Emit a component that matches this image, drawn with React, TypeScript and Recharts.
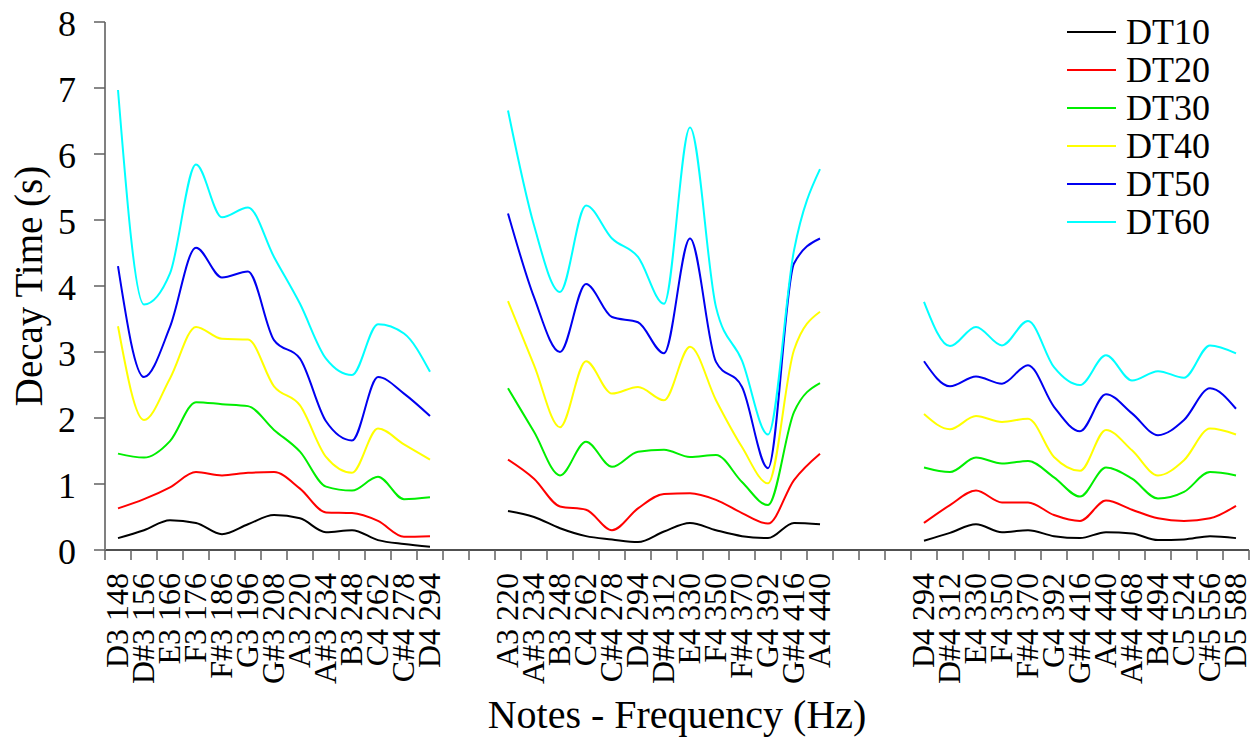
import React from 'react';
import { LineChart, Line, XAxis, YAxis, Legend, Label } from 'recharts';

// note labels for the three measured ranges
const NOTES_LOW = ['D3 148', 'D#3 156', 'E3 166', 'F3 176', 'F#3 186', 'G3 196', 'G#3 208', 'A3 220', 'A#3 234', 'B3 248', 'C4 262', 'C#4 278', 'D4 294'];
const NOTES_MID = ['A3 220', 'A#3 234', 'B3 248', 'C4 262', 'C#4 278', 'D4 294', 'D#4 312', 'E4 330', 'F4 350', 'F#4 370', 'G4 392', 'G#4 416', 'A4 440'];
const NOTES_HIGH = ['D4 294', 'D#4 312', 'E4 330', 'F4 350', 'F#4 370', 'G4 392', 'G#4 416', 'A4 440', 'A#4 468', 'B4 494', 'C5 524', 'C#5 556', 'D5 588'];

// decay times (s)
const LOW_DT10 = [0.18, 0.30, 0.45, 0.41, 0.24, 0.39, 0.53, 0.48, 0.27, 0.30, 0.15, 0.09, 0.05];
const LOW_DT20 = [0.63, 0.77, 0.95, 1.18, 1.13, 1.17, 1.18, 0.93, 0.57, 0.56, 0.44, 0.20, 0.21];
const LOW_DT30 = [1.46, 1.40, 1.65, 2.24, 2.21, 2.18, 1.82, 1.49, 0.96, 0.90, 1.11, 0.77, 0.80];
const LOW_DT40 = [3.39, 1.97, 2.60, 3.38, 3.20, 3.19, 2.48, 2.19, 1.41, 1.17, 1.84, 1.60, 1.37];
const LOW_DT50 = [4.30, 2.62, 3.38, 4.58, 4.13, 4.22, 3.18, 2.90, 1.95, 1.66, 2.62, 2.37, 2.03];
const LOW_DT60 = [6.97, 3.72, 4.19, 5.84, 5.04, 5.19, 4.44, 3.73, 2.90, 2.65, 3.42, 3.28, 2.70];

const MID_DT10 = [0.59, 0.50, 0.33, 0.21, 0.16, 0.12, 0.28, 0.41, 0.30, 0.21, 0.18, 0.41, 0.39];
const MID_DT20 = [1.37, 1.08, 0.66, 0.61, 0.30, 0.63, 0.85, 0.86, 0.76, 0.56, 0.40, 1.06, 1.46];
const MID_DT30 = [2.45, 1.79, 1.13, 1.64, 1.26, 1.49, 1.52, 1.41, 1.44, 1.03, 0.68, 2.09, 2.53];
const MID_DT40 = [3.77, 2.80, 1.86, 2.86, 2.37, 2.47, 2.27, 3.08, 2.27, 1.56, 1.01, 3.03, 3.61];
const MID_DT50 = [5.10, 3.83, 3.00, 4.03, 3.53, 3.45, 2.98, 4.72, 2.85, 2.47, 1.24, 4.34, 4.72];
const MID_DT60 = [6.66, 4.92, 3.91, 5.22, 4.72, 4.44, 3.73, 6.40, 3.68, 2.87, 1.75, 4.54, 5.77];

const HIGH_DT10 = [0.14, 0.26, 0.39, 0.27, 0.30, 0.21, 0.18, 0.27, 0.25, 0.15, 0.16, 0.21, 0.18];
const HIGH_DT20 = [0.41, 0.68, 0.90, 0.72, 0.72, 0.53, 0.44, 0.75, 0.61, 0.48, 0.44, 0.48, 0.67];
const HIGH_DT30 = [1.25, 1.18, 1.40, 1.31, 1.35, 1.10, 0.81, 1.25, 1.08, 0.78, 0.88, 1.18, 1.13];
const HIGH_DT40 = [2.06, 1.83, 2.03, 1.94, 1.99, 1.41, 1.20, 1.82, 1.51, 1.13, 1.36, 1.84, 1.75];
const HIGH_DT50 = [2.86, 2.48, 2.63, 2.52, 2.80, 2.17, 1.80, 2.36, 2.07, 1.74, 1.97, 2.45, 2.14];
const HIGH_DT60 = [3.76, 3.09, 3.38, 3.10, 3.47, 2.77, 2.50, 2.95, 2.57, 2.71, 2.61, 3.10, 2.98];

const Y_TICKS = [0, 1, 2, 3, 4, 5, 6, 7, 8];

const SERIES = [
  { key: 'dt10', name: 'DT10', color: '#000000' },
  { key: 'dt20', name: 'DT20', color: '#ff0000' },
  { key: 'dt30', name: 'DT30', color: '#00ee00' },
  { key: 'dt40', name: 'DT40', color: '#ffff00' },
  { key: 'dt50', name: 'DT50', color: '#0000f0' },
  { key: 'dt60', name: 'DT60', color: '#00ffff' },
];

const buildGroup = (notes: string[], cols: number[][]) =>
  notes.map((note, i) => ({
    note,
    dt10: cols[0][i], dt20: cols[1][i], dt30: cols[2][i],
    dt40: cols[3][i], dt50: cols[4][i], dt60: cols[5][i],
  }));

const blanks = (n: number) => Array.from({ length: n }, () => ({
  note: '', dt10: null, dt20: null, dt30: null, dt40: null, dt50: null, dt60: null,
}));

const joined = [
  ...buildGroup(NOTES_LOW, [LOW_DT10, LOW_DT20, LOW_DT30, LOW_DT40, LOW_DT50, LOW_DT60]),
  ...blanks(2),
  ...buildGroup(NOTES_MID, [MID_DT10, MID_DT20, MID_DT30, MID_DT40, MID_DT50, MID_DT60]),
  ...blanks(3),
  ...buildGroup(NOTES_HIGH, [HIGH_DT10, HIGH_DT20, HIGH_DT30, HIGH_DT40, HIGH_DT50, HIGH_DT60]),
];
// unique slot id per row so repeated / empty labels stay separate categories
const rows = joined.map((r, i) => ({ slot: `s${i}`, ...r }));

const FONT = '"Liberation Serif", "Times New Roman", serif';
const W = 1250;
const H = 740;
const PLOT_LEFT = 105;
const PLOT_RIGHT = 1249;
const PLOT_TOP = 22;
const PLOT_BOTTOM = 550;
const BAND = (PLOT_RIGHT - PLOT_LEFT) / rows.length;

const NoteTick = ({ x, index }: any) => {
  const ty = PLOT_BOTTOM + 23;
  return (
    <g>
      <line x1={x - BAND / 2} y1={PLOT_BOTTOM} x2={x - BAND / 2} y2={PLOT_BOTTOM + 10} stroke="#606060" strokeWidth={1.5} />
      {index === rows.length - 1 && (
        <line x1={x + BAND / 2} y1={PLOT_BOTTOM} x2={x + BAND / 2} y2={PLOT_BOTTOM + 10} stroke="#606060" strokeWidth={1.5} />
      )}
      <text x={x} y={ty} dy="0.3em" transform={`rotate(-90, ${x}, ${ty})`} textAnchor="end"
        style={{ fontFamily: FONT, fontSize: 32 }} fill="#000">{rows[index]?.note}</text>
    </g>
  );
};

const ValueTick = ({ y, payload }: any) => (
  <text x={76} y={y} dy={14} textAnchor="end" style={{ fontFamily: FONT, fontSize: 36 }} fill="#000">{payload.value}</text>
);

const LegendBox = ({ payload }: any) => (
  <div style={{ fontFamily: FONT, fontSize: 36, color: '#000' }}>
    {payload.map((p: any) => (
      <div key={p.value} style={{ display: 'flex', alignItems: 'center', height: 38 }}>
        <span style={{ display: 'inline-block', width: 49, height: 2, background: p.color, marginRight: 10 }} />
        <span style={{ lineHeight: '38px' }}>{p.value}</span>
      </div>
    ))}
  </div>
);

export default function App() {
  return (
    <div style={{ position: 'absolute', left: 0, top: 0, width: W, height: H, background: '#fff' }}>
      <LineChart width={W} height={H} data={rows} margin={{ top: PLOT_TOP, right: W - PLOT_RIGHT, bottom: 0, left: 0 }}>
        <XAxis dataKey="slot" interval={0} height={H - PLOT_BOTTOM} tickLine={false}
          padding={{ left: BAND / 2, right: BAND / 2 }}
          axisLine={{ stroke: '#505050', strokeWidth: 2 }} tick={<NoteTick />}>
          <Label content={() => (
            <text x={(PLOT_LEFT + PLOT_RIGHT) / 2} y={728} textAnchor="middle" style={{ fontFamily: FONT, fontSize: 40 }} fill="#000">
              Notes - Frequency (Hz)
            </text>
          )} />
        </XAxis>
        <YAxis domain={[0, 8]} ticks={Y_TICKS} width={PLOT_LEFT} tickSize={11}
          tickLine={{ stroke: '#606060', strokeWidth: 1.5 }} axisLine={{ stroke: '#808080', strokeWidth: 2 }} tick={<ValueTick />}>
          <Label content={() => (
            <text x={42} y={(PLOT_TOP + PLOT_BOTTOM) / 2} transform={`rotate(-90, 42, ${(PLOT_TOP + PLOT_BOTTOM) / 2})`}
              textAnchor="middle" style={{ fontFamily: FONT, fontSize: 39 }} fill="#000">
              Decay Time (s)
            </text>
          )} />
        </YAxis>
        <Legend layout="vertical" align="center" verticalAlign="middle" content={<LegendBox />}
          wrapperStyle={{ left: 1067, top: 13, width: 183 }} />
        {SERIES.map((s) => (
          <Line key={s.key} type="monotone" dataKey={s.key} name={s.name} stroke={s.color} strokeWidth={2}
            dot={false} activeDot={false} connectNulls={false} isAnimationActive={false} />
        ))}
      </LineChart>
    </div>
  );
}
